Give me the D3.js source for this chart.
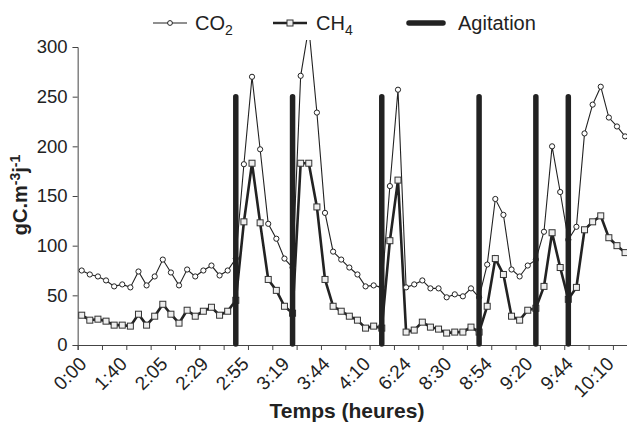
<!DOCTYPE html>
<html>
<head>
<meta charset="utf-8">
<script src="https://cdn.jsdelivr.net/npm/d3@7"></script>
<style>
  body { margin: 0; background: #fff; }
  text { font-family: "Liberation Sans", Arial, sans-serif; }
</style>
</head>
<body>
<div id="chart"></div>
<script>
// tick labels, every 5th measurement
var timeLabels = ["0:00","1:40","2:05","2:29","2:55","3:19","3:44","4:10","6:24","8:30","8:54","9:20","9:44","10:10"];

var co2 = [75,71,69,65,59,61,58,74,60,69,86,73,60,76,69,75,80,70,75,87,
  182,270,197,122,107,87,78,271,320,234,133,94,86,78,71,59,60,58,160,257,
  58,61,65,57,57,48,51,49,57,48,81,147,131,76,69,80,86,114,200,154,
  106,119,213,242,260,229,220,210];

var ch4 = [30,25,26,24,20,20,19,31,20,29,41,31,22,35,29,34,38,30,34,45,
  124,183,123,66,55,39,32,183,183,139,66,39,34,29,25,17,19,17,105,166,
  13,15,23,18,16,12,13,13,18,13,39,87,71,29,25,35,37,59,113,78,
  46,58,116,124,130,108,100,93];

// index of the measurement where agitation happened
var agitation = [19, 26, 37, 49, 56, 60];
var agitationTop = 250;

var yTicks = [0, 50, 100, 150, 200, 250, 300];

var W = 627, H = 427;
var x0 = 77.65, step = 8.11;
var n = co2.length;

var svg = d3.select("#chart").append("svg")
    .attr("width", W).attr("height", H);

var x = d3.scaleBand()
    .domain(d3.range(n))
    .range([x0, x0 + n * step])
    .paddingInner(0).paddingOuter(0);

// same axis as a number line, for the tick marks between categories
var xb = d3.scaleLinear().domain([0, n]).range([x0, x0 + n * step]);

var y = d3.scaleLinear().domain([0, 300]).range([345, 47]);

function cx(i) { return x(i) + x.bandwidth() / 2; }

svg.append("defs").append("clipPath").attr("id", "plot")
  .append("rect").attr("x", x0).attr("y", 40).attr("width", W - x0).attr("height", 310);

// y axis
var yAxis = svg.append("g")
    .attr("transform", "translate(" + x0 + ",0)")
    .call(d3.axisLeft(y).tickValues(yTicks).tickSize(5).tickPadding(5));
yAxis.select(".domain").attr("stroke", "#444");
yAxis.selectAll(".tick line").attr("stroke", "#444");
yAxis.selectAll("text").attr("font-size", 18.5).attr("fill", "#222")
    .attr("font-family", "Liberation Sans, Arial, sans-serif");

// x axis: ticks every 3 measurements
var xTicks = svg.append("g")
    .attr("transform", "translate(0,345)")
    .call(d3.axisBottom(xb).tickValues(d3.range(0, n + 1, 3)).tickSize(5).tickFormat(""));
xTicks.select(".domain").attr("stroke", "#444");
xTicks.selectAll(".tick line").attr("stroke", "#444");

// x labels: every 5 measurements
var xLab = svg.append("g")
    .attr("transform", "translate(0,345)")
    .call(d3.axisBottom(x)
        .tickValues(d3.range(0, n, 5))
        .tickSize(0)
        .tickFormat(function(d) { return timeLabels[d / 5]; }));
xLab.select(".domain").remove();
xLab.selectAll("text")
    .attr("font-size", 19).attr("fill", "#222")
    .attr("font-family", "Liberation Sans, Arial, sans-serif")
    .attr("text-anchor", "end")
    .attr("dy", null).attr("y", 0)
    .attr("transform", "translate(6,20) rotate(-45)");

var plot = svg.append("g").attr("clip-path", "url(#plot)");

var line = d3.line().x(function(d, i) { return cx(i); }).y(function(d) { return y(d); });

plot.append("path").datum(co2)
    .attr("d", line).attr("fill", "none").attr("stroke", "#222").attr("stroke-width", 1.1);
plot.append("path").datum(ch4)
    .attr("d", line).attr("fill", "none").attr("stroke", "#222").attr("stroke-width", 2.6);

plot.selectAll(".co2").data(co2).enter().append("circle")
    .attr("class", "co2")
    .attr("cx", function(d, i) { return cx(i); })
    .attr("cy", function(d) { return y(d); })
    .attr("r", 2.6)
    .attr("fill", "#fff").attr("stroke", "#222").attr("stroke-width", 1);

plot.selectAll(".ch4").data(ch4).enter().append("rect")
    .attr("class", "ch4")
    .attr("x", function(d, i) { return cx(i) - 3; })
    .attr("y", function(d) { return y(d) - 3; })
    .attr("width", 6).attr("height", 6)
    .attr("fill", "#eee").attr("stroke", "#333").attr("stroke-width", 1);

// agitation bars
svg.selectAll(".agit").data(agitation).enter().append("line")
    .attr("class", "agit")
    .attr("x1", function(d) { return cx(d); })
    .attr("x2", function(d) { return cx(d); })
    .attr("y1", y(0) - 1).attr("y2", y(agitationTop))
    .attr("stroke", "#222").attr("stroke-width", 5.5).attr("stroke-linecap", "round");

// axis titles
svg.append("text")
    .attr("x", 347).attr("y", 418)
    .attr("text-anchor", "middle")
    .attr("font-size", 21).attr("font-weight", "bold").attr("fill", "#222")
    .text("Temps (heures)");

var yt = svg.append("text")
    .attr("transform", "translate(27,195) rotate(-90)")
    .attr("text-anchor", "middle")
    .attr("font-size", 20).attr("font-weight", "bold").attr("fill", "#222");
yt.append("tspan").text("gC.m");
yt.append("tspan").attr("font-size", 14).attr("dy", -7).text("-3");
yt.append("tspan").attr("dy", 7).text("j");
yt.append("tspan").attr("font-size", 14).attr("dy", -7).text("-1");

// legend
var leg = svg.append("g");
leg.append("line").attr("x1", 153).attr("x2", 187).attr("y1", 23).attr("y2", 23)
    .attr("stroke", "#222").attr("stroke-width", 1.1);
leg.append("circle").attr("cx", 170).attr("cy", 23).attr("r", 2.4)
    .attr("fill", "#fff").attr("stroke", "#222");
var t1 = leg.append("text").attr("x", 195).attr("y", 30).attr("font-size", 20).attr("fill", "#222");
t1.append("tspan").text("CO");
t1.append("tspan").attr("font-size", 14).attr("dy", 5).text("2");

leg.append("line").attr("x1", 273).attr("x2", 307).attr("y1", 23).attr("y2", 23)
    .attr("stroke", "#222").attr("stroke-width", 2.6);
leg.append("rect").attr("x", 287).attr("y", 20).attr("width", 6).attr("height", 6)
    .attr("fill", "#eee").attr("stroke", "#333");
var t2 = leg.append("text").attr("x", 316).attr("y", 30).attr("font-size", 20).attr("fill", "#222");
t2.append("tspan").text("CH");
t2.append("tspan").attr("font-size", 14).attr("dy", 5).text("4");

leg.append("line").attr("x1", 409).attr("x2", 443).attr("y1", 23).attr("y2", 23)
    .attr("stroke", "#222").attr("stroke-width", 5.5).attr("stroke-linecap", "round");
leg.append("text").attr("x", 458).attr("y", 30).attr("font-size", 20).attr("fill", "#222")
    .text("Agitation");
</script>
</body>
</html>
